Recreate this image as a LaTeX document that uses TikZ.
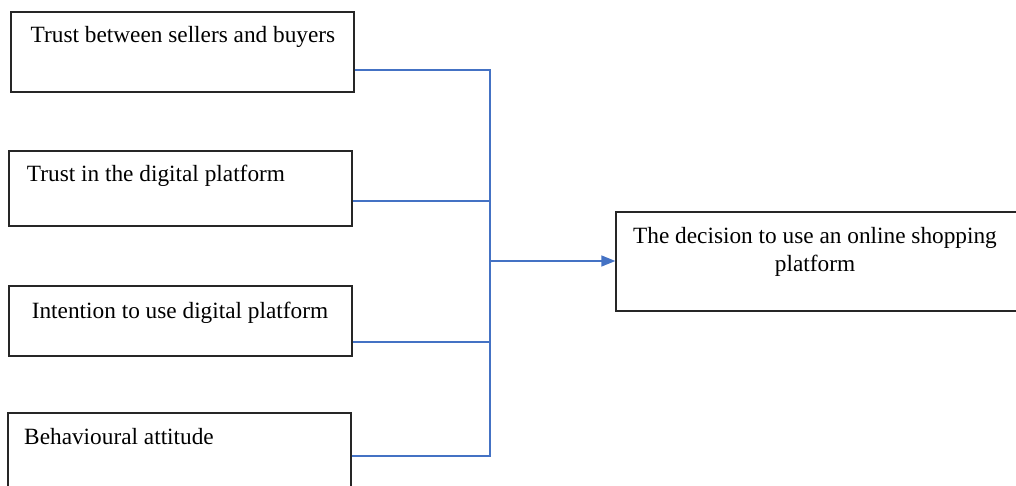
\documentclass[tikz,border=0pt]{standalone}
\usepackage{fontspec}
\setmainfont{Liberation Serif}
\usetikzlibrary{arrows.meta}
\definecolor{linkblue}{RGB}{68,114,196}
\begin{document}
\begin{tikzpicture}[x=1pt, y=-1pt, >={Triangle[length=14pt,width=11pt]},
    box/.style={draw=black!85, line width=1.3pt, minimum width=343pt, inner sep=0pt},
    txt/.style={anchor=base, inner sep=0pt, font=\fontsize{23.3}{28}\selectfont},
    link/.style={draw=linkblue, line width=1.3pt}]
\useasboundingbox (0,0) rectangle (1016,486);
% factor boxes
\node[box, minimum height=80pt] (b1) at (182.5,52) {};
\node[box, minimum height=75pt] (b2) at (180.5,188.5) {};
\node[box, minimum height=70pt] (b3) at (180.5,321) {};
\node[box, minimum height=90pt] (b4) at (179.5,458) {};
\node[box, minimum width=406pt, minimum height=99pt] (dec) at (819,261.5) {};
\node[txt] (t1) at (183,43) {Trust between sellers and buyers};
\node[txt] (t2) at (156,182) {Trust in the digital platform};
\node[txt] (t3) at (180,318) {Intention to use digital platform};
\node[txt] (t4) at (119,444) {Behavioural attitude};
\node[txt, align=center] (t5) at (815,271) {The decision to use an online shopping\\platform};
% bus line
\coordinate (j1) at (490,70);
\coordinate (j2) at (490,201);
\coordinate (j3) at (490,342);
\coordinate (j4) at (490,456);
\coordinate (jm) at (490,261);
\draw[link] (b1.east |- j1) -- (j1) -- (j4) -- (b4.east |- j4);
\draw[link] (b2.east |- j2) -- (j2);
\draw[link] (b3.east |- j3) -- (j3);
\draw[link,->] (jm) -- (dec.west |- jm);
\end{tikzpicture}
\end{document}
